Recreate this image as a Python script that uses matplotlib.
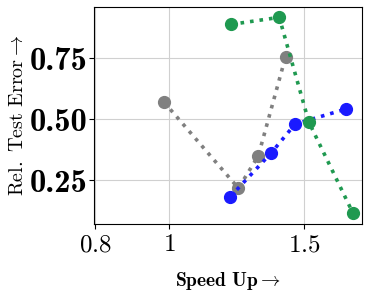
import os
import matplotlib
matplotlib.use('Agg')
import matplotlib.pyplot as plt
from matplotlib.font_manager import FontProperties
from matplotlib.ticker import FixedLocator, FixedFormatter, NullLocator

plt.rcParams['mathtext.fontset'] = 'cm'
plt.rcParams['font.family'] = 'serif'

ttf_dir = os.path.join(matplotlib.get_data_path(), 'fonts', 'ttf')
cm_bold = FontProperties(fname=os.path.join(ttf_dir, 'cmb10.ttf'))

# data
green_x = [1.204, 1.392, 1.522, 1.738]
green_y = [0.889, 0.918, 0.488, 0.115]
gray_x = [0.984, 1.231, 1.307, 1.419]
gray_y = [0.570, 0.217, 0.350, 0.757]
blue_x = [1.201, 1.358, 1.460, 1.702]
blue_y = [0.182, 0.361, 0.480, 0.542]

x_ticks = [0.8, 1, 1.5]
x_labels = ['$0.8$', '$1$', '$1.5$']
y_ticks = [0.25, 0.50, 0.75]
y_labels = ['0.25', '0.50', '0.75']

fig = plt.figure(figsize=(3.69, 2.96), dpi=100)
ax = fig.add_axes([0.255, 0.243, 0.726, 0.733])

for xs, ys, c in [(gray_x, gray_y, '#808080'),
                  (blue_x, blue_y, '#1a1aff'),
                  (green_x, green_y, '#1f9950')]:
    ax.plot(xs, ys, linestyle=':', linewidth=2.6, color=c,
            marker='o', markersize=8.5, zorder=3)

ax.set_xscale('log')
ax.set_xlim(0.797, 1.786)
ax.set_ylim(0.07, 0.96)

ax.xaxis.set_major_locator(FixedLocator(x_ticks))
ax.xaxis.set_major_formatter(FixedFormatter(x_labels))
ax.xaxis.set_minor_locator(NullLocator())
ax.yaxis.set_major_locator(FixedLocator(y_ticks))
ax.yaxis.set_major_formatter(FixedFormatter(y_labels))

ax.tick_params(axis='x', labelsize=18, pad=3)
ax.tick_params(axis='y', pad=1.5)
for lab in ax.get_yticklabels():
    lab.set_fontproperties(cm_bold)
    lab.set_fontsize(23.5)
ax.grid(True, color='#d0d0d0', linewidth=0.8)
ax.set_axisbelow(True)

ax.set_xlabel(r'$\mathbf{Speed\ Up} \rightarrow$', fontsize=14, labelpad=10)
ax.set_ylabel(r'$\mathrm{Rel.\ Test\ Error} \rightarrow$', fontsize=14.5, labelpad=2)

fig.savefig('out.png', dpi=100)
